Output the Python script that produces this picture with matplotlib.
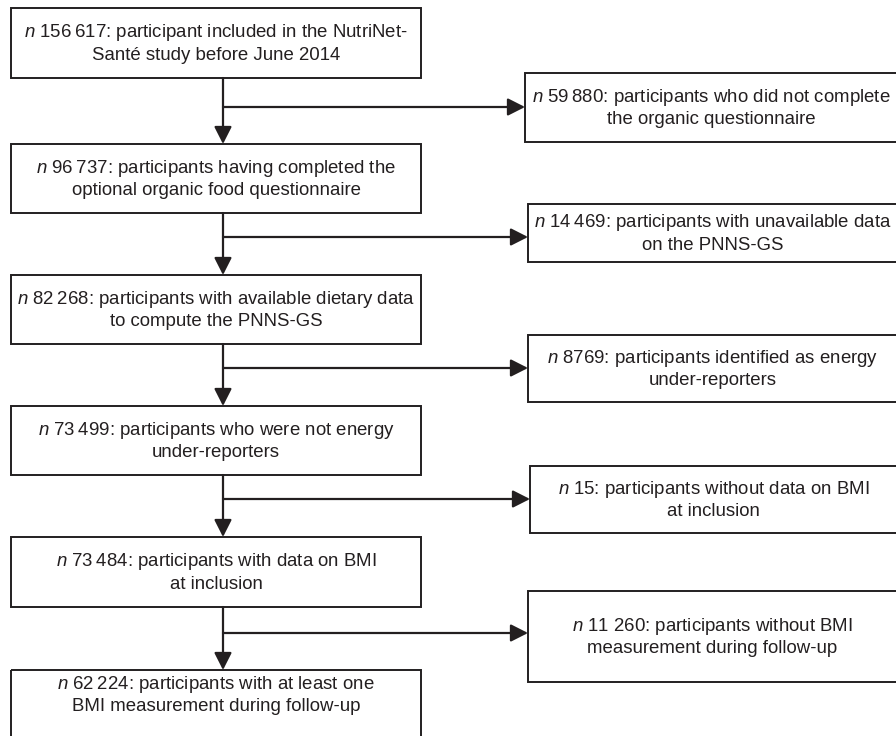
import matplotlib.pyplot as plt
from matplotlib.patches import Rectangle

plt.rcParams['font.family'] = ['Liberation Sans', 'DejaVu Sans']
plt.rcParams['mathtext.fontset'] = 'custom'
plt.rcParams['mathtext.rm'] = 'Liberation Sans'
plt.rcParams['mathtext.it'] = 'Liberation Sans:italic'

ts = '\u2009'
main_counts = ['156' + ts + '617', '96' + ts + '737', '82' + ts + '268',
               '73' + ts + '499', '73' + ts + '484', '62' + ts + '224']
main_texts = [': participant included in the NutriNet-\nSanté study before June 2014',
              ': participants having completed the\noptional organic food questionnaire',
              ': participants with available dietary data\nto compute the PNNS-GS',
              ': participants who were not energy\nunder-reporters',
              ': participants with data on BMI\nat inclusion',
              ': participants with at least one\nBMI measurement during follow-up']
excl_counts = ['59' + ts + '880', '14' + ts + '469', '8769', '15', '11 260']
excl_texts = [': participants who did not complete\nthe organic questionnaire',
              ': participants with unavailable data\non the PNNS-GS',
              ': participants identified as energy\nunder-reporters',
              ': participants without data on BMI\nat inclusion',
              ': participants without BMI\nmeasurement during follow-up']

W, H = 896, 736
col = '#231f20'

fig = plt.figure(figsize=(W / 100, H / 100), dpi=100)
ax = fig.add_axes([0, 0, 1, 1])
ax.set_xlim(0, W)
ax.set_ylim(H, 0)
ax.axis('off')

# layout (pixels)
mx0, mx1 = 11, 421
m_top = [8, 144, 275, 406, 537, 670]
m_h = [70, 69, 69, 69, 70, 49]
e_x0 = [525, 528, 528, 530, 528]
e_x1 = 897
e_top = [73, 204, 335, 466, 591]
e_h = [69, 58, 67, 67, 91]
branch_y = [107, 237, 368, 499, 633]
vx = 223
fs = 13.4


def label(count, rest):
    first, second = rest.split('\n')
    return '$n$ ' + count + first + '\n' + second


def box(x0, x1, top, h, txt, clip_bottom=False):
    rh = (H - top + 5) if clip_bottom else h
    ax.add_patch(Rectangle((x0, top), x1 - x0, rh, fill=False, ec=col, lw=1.4))
    ax.text((x0 + x1) / 2, top + h / 2, txt, ha='center', va='center',
            fontsize=fs, color=col, linespacing=1.3)


def arrow(x0, y0, x1, y1):
    ax.annotate('', xy=(x1, y1), xytext=(x0, y0),
                arrowprops=dict(arrowstyle='-|>,head_length=0.75,head_width=0.38',
                                color=col, lw=1.6, mutation_scale=14,
                                shrinkA=0, shrinkB=0))


for i in range(len(main_texts)):
    box(mx0, mx1, m_top[i], m_h[i], label(main_counts[i], main_texts[i]),
        clip_bottom=(i == len(main_texts) - 1))

for i in range(len(excl_texts)):
    box(e_x0[i], e_x1, e_top[i], e_h[i], label(excl_counts[i], excl_texts[i]))
    arrow(vx, m_top[i] + m_h[i], vx, m_top[i + 1])
    arrow(vx, branch_y[i], e_x0[i], branch_y[i])

fig.savefig('out.png', dpi=100, facecolor='white')
